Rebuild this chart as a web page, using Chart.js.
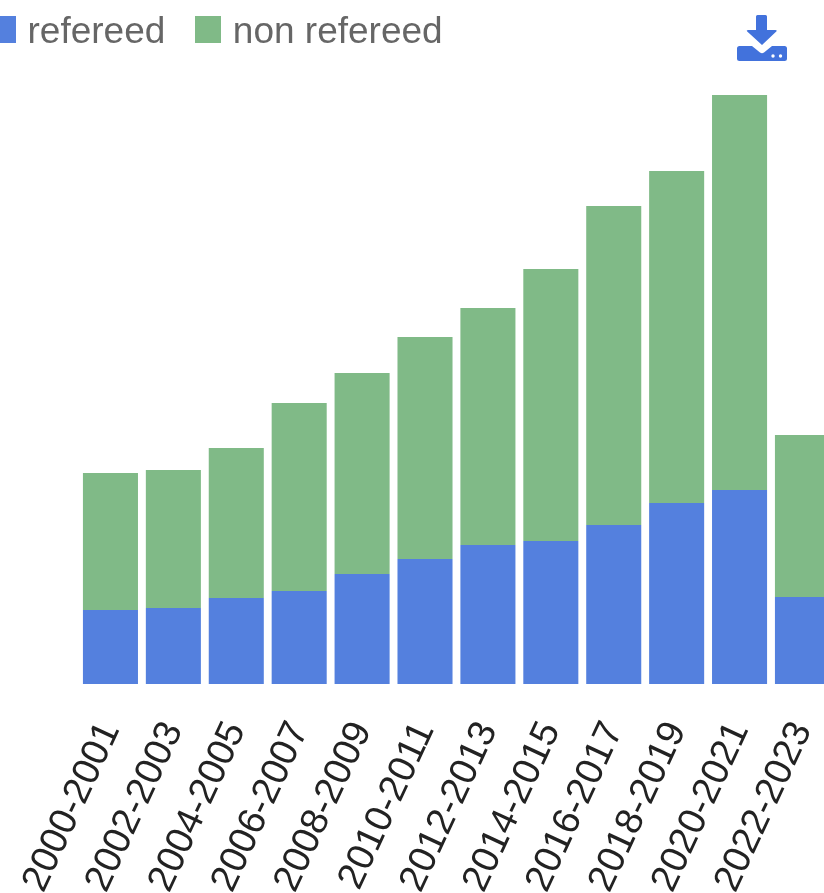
<!DOCTYPE html>
<html>
<head>
<meta charset="utf-8">
<script src="https://cdn.jsdelivr.net/npm/chart.js@4"></script>
<style>
html,body{margin:0;padding:0;background:#fff;overflow:hidden;width:824px;height:893px;position:relative}
#c{position:absolute;left:-40px;top:-23px}
#dl{position:absolute;left:737px;top:15px}
</style>
</head>
<body>
<canvas id="c" width="907" height="960" style="width:907px;height:960px"></canvas>
<svg id="dl" width="50" height="47" viewBox="0 0 50 47"><path fill="#4272dc" d="M19 1.500a1.500 1.500 0 0 1 1.500-1.500h8a1.500 1.500 0 0 1 1.500 1.500V15h8.500q2 0 .8 1.600L25 30 10.200 16.600Q9 15 11 15H19zM2.500 31h12.500l8 6.500q2 1.500 4 0l8-6.500h12.500q2.500 0 2.500 2.500v10q0 2.500-2.500 2.500h-45Q0 46 0 43.500v-10Q0 31 2.500 31z"/><circle cx="36" cy="41" r="1.700" fill="#fff"/><circle cx="43.500" cy="41" r="1.700" fill="#fff"/></svg>
<script>
const categories = ["2000-2001","2002-2003","2004-2005","2006-2007","2008-2009","2010-2011","2012-2013","2014-2015","2016-2017","2018-2019","2020-2021","2022-2023"];
const refereed = [74,76,86,93,110,125,139,143,159,181,194,87];
const nonRefereed = [137,138,150,188,201,222,237,272,319,332,395,162];
const seriesNames = ["refereed","non refereed"];
const blue = "#5480de", green = "#80ba87";

function swatch(color){
  const s = document.createElement("canvas");
  s.width = 26; s.height = 33;
  const x = s.getContext("2d");
  x.fillStyle = color; x.fillRect(0,0,26,27);
  return s;
}

new Chart(document.getElementById("c"), {
  type: "bar",
  data: {
    labels: categories,
    datasets: [
      {label: seriesNames[0], data: refereed, backgroundColor: blue, pointStyle: swatch(blue)},
      {label: seriesNames[1], data: nonRefereed, backgroundColor: green, pointStyle: swatch(green)}
    ]
  },
  options: {
    responsive: false,
    animation: false,
    devicePixelRatio: 1,
    layout: {padding: {right: 5}},
    plugins: {
      tooltip: {enabled: false},
      legend: {
        align: "start",
        labels: {
          usePointStyle: true, pointStyleWidth: 12, boxHeight: 26, padding: 37,
          color: "#666", font: {family: "'Liberation Sans'", size: 37}
        }
      }
    },
    datasets: {bar: {barPercentage: 0.875, categoryPercentage: 1}},
    scales: {
      x: {
        stacked: true,
        grid: {display: false}, border: {display: false},
        afterFit: s => { s.height = 253; },
        ticks: {autoSkip: false, minRotation: 65, maxRotation: 65, padding: 23, color: "#222", font: {family: "'Liberation Sans'", size: 38}}
      },
      y: {
        stacked: true, min: 0, max: 623,
        grid: {display: false}, border: {display: false},
        afterFit: s => { s.width = 119; },
        ticks: {display: false}
      }
    }
  }
});
</script>
</body>
</html>
